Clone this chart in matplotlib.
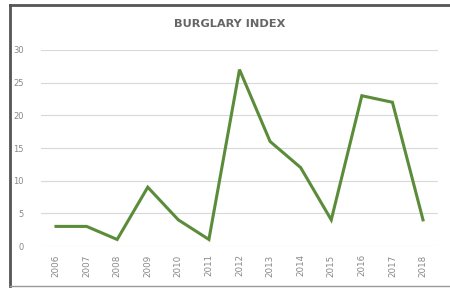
import matplotlib.pyplot as plt
from matplotlib.lines import Line2D

# data
years = ["2006", "2007", "2008", "2009", "2010", "2011", "2012",
         "2013", "2014", "2015", "2016", "2017", "2018"]
index = [3, 3, 1, 9, 4, 1, 27, 16, 12, 4, 23, 22, 4]
yticks = [0, 5, 10, 15, 20, 25, 30]

W, H = 450, 288
fig = plt.figure(figsize=(W / 100, H / 100), dpi=100)

# chart frame (left, top, bottom edges)
fig.add_artist(Line2D([10 / W, 10 / W], [1 - 5 / H, 1 - 286 / H], color="#555555", lw=2.0))
fig.add_artist(Line2D([10 / W, 1.0], [1 - 5 / H, 1 - 5 / H], color="#555555", lw=2.0))
fig.add_artist(Line2D([10 / W, 1.0], [1 - 286 / H, 1 - 286 / H], color="#999999", lw=1.0))

ax = fig.add_axes([40.7 / W, 42 / H, 397.6 / W, 196 / H])
x = list(range(len(years)))
ax.plot(x, index, color="#5b8c3a", lw=2.2, solid_joinstyle="miter")

ax.set_xlim(-0.5, len(years) - 0.5)
ax.set_ylim(0, 30)
ax.set_yticks(yticks)
ax.set_yticklabels([str(v) for v in yticks], fontsize=6, color="#888888")
ax.set_xticks(x)
ax.set_xticklabels(years, rotation=90, fontsize=6.3, color="#888888")
ax.tick_params(axis="y", length=0, pad=12)
ax.tick_params(axis="x", length=0, pad=6)
ax.yaxis.grid(True, color="#d9d9d9", lw=0.8)
ax.set_axisbelow(True)
for s in ax.spines.values():
    s.set_visible(False)

fig.text(230 / W, 1 - 24 / H, "BURGLARY INDEX", ha="center", va="center",
         fontsize=8.2, fontweight="bold", color="#666666")

fig.savefig("out.png", dpi=100)
